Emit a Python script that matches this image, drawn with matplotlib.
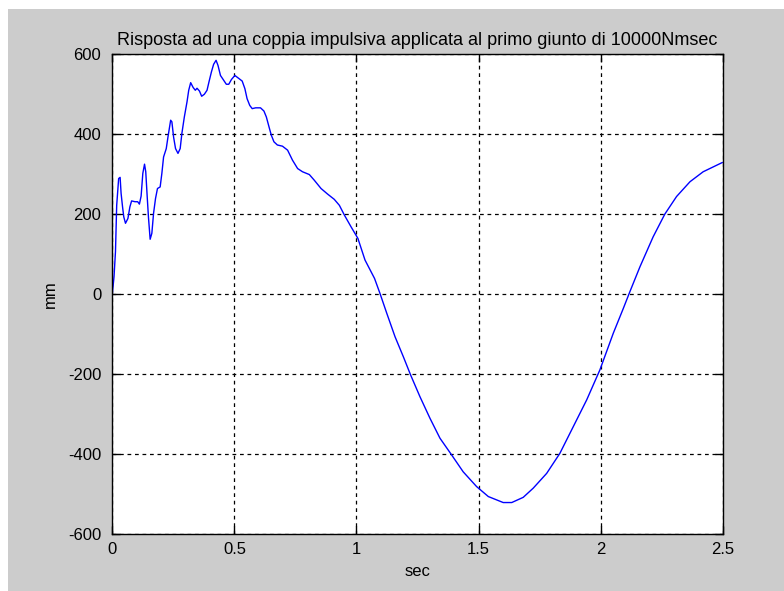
import numpy as np
import matplotlib.pyplot as plt
from matplotlib.patches import Rectangle

# time (sec) and displacement (mm)
t = [0.0, 0.007, 0.013, 0.018, 0.026, 0.032, 0.036, 0.042, 0.047, 0.054,
     0.064, 0.072, 0.079, 0.093, 0.104, 0.111, 0.118, 0.125, 0.132, 0.137,
     0.143, 0.148, 0.155, 0.162, 0.169, 0.177, 0.185, 0.196, 0.203, 0.210,
     0.221, 0.228, 0.239, 0.244, 0.251, 0.259, 0.269, 0.278, 0.285, 0.295,
     0.306, 0.313, 0.321, 0.331, 0.340, 0.347, 0.357, 0.366, 0.377, 0.388,
     0.396, 0.406, 0.415, 0.425, 0.433, 0.443, 0.454, 0.467, 0.477, 0.488,
     0.502, 0.515, 0.532, 0.543, 0.552, 0.563, 0.573, 0.587, 0.607, 0.621,
     0.631, 0.642, 0.651, 0.662, 0.676, 0.697, 0.718, 0.738, 0.759, 0.779,
     0.807, 0.827, 0.855, 0.882, 0.909, 0.930, 0.951, 0.978, 1.006, 1.035,
     1.074, 1.096, 1.124, 1.158, 1.192, 1.222, 1.260, 1.301, 1.342, 1.390,
     1.437, 1.492, 1.540, 1.601, 1.636, 1.683, 1.724, 1.779, 1.833, 1.888,
     1.943, 1.997, 2.052, 2.093, 2.120, 2.161, 2.215, 2.263, 2.311, 2.366,
     2.420, 2.498]
mm = [0, 43, 106, 222, 289, 292, 252, 218, 193, 177,
      189, 218, 233, 231, 231, 225, 245, 302, 325, 306,
      243, 193, 137, 152, 202, 239, 264, 268, 302, 343,
      364, 393, 435, 431, 393, 364, 352, 364, 402, 443,
      481, 510, 529, 517, 510, 515, 508, 495, 500, 510,
      531, 556, 575, 585, 572, 547, 537, 525, 525, 537,
      547, 541, 533, 514, 489, 472, 464, 466, 466, 458,
      443, 418, 398, 381, 373, 370, 360, 335, 314, 306,
      299, 285, 264, 250, 237, 222, 197, 168, 139, 85,
      39, 2, -48, -107, -157, -203, -257, -311, -361, -403,
      -445, -482, -507, -522, -522, -509, -486, -449, -399, -332,
      -265, -190, -98, -36, 6, 68, 143, 200, 244, 281,
      306, 329]

xticks = [0, 0.5, 1, 1.5, 2, 2.5]
xticklabels = ["0", "0.5", "1", "1.5", "2", "2.5"]
yticks = [-600, -400, -200, 0, 200, 400, 600]

plt.rcParams["font.family"] = ["Liberation Sans", "DejaVu Sans"]
plt.rcParams["axes.unicode_minus"] = False

fig = plt.figure(figsize=(7.84, 5.91), dpi=100, facecolor="white")
# gray window area, leaving a thin white margin at top and left
fig.add_artist(Rectangle((8 / 784, 0), 1, 1 - 9 / 591, transform=fig.transFigure,
                         facecolor="#cccccc", edgecolor="none", zorder=-5))

ax = fig.add_axes([112.3 / 784, 1 - 533.7 / 591, 610.4 / 784, 479.4 / 591])
ax.set_facecolor("white")
ax.plot(t, mm, color=(0, 0, 1), lw=1.0)

ax.set_xlim(0, 2.5)
ax.set_ylim(-600, 600)
ax.set_xticks(xticks)
ax.set_xticklabels(xticklabels)
ax.set_yticks(yticks)
ax.grid(True, color="black", linestyle=(0, (3, 3)), linewidth=0.9)
ax.tick_params(axis="both", direction="in", length=6, top=True, right=True, width=1,
               colors="black", labelsize=12)
ax.tick_params(axis="x", pad=6)
ax.tick_params(axis="y", pad=8)
for s in ax.spines.values():
    s.set_linewidth(1.0)

ax.set_title("Risposta ad una coppia impulsiva applicata al primo giunto di 10000Nmsec",
             fontsize=13, pad=7)
ax.set_xlabel("sec", fontsize=12, labelpad=5)
ax.set_ylabel("mm", fontsize=12, labelpad=7)

fig.savefig("out.png", dpi=100, facecolor=fig.get_facecolor())
